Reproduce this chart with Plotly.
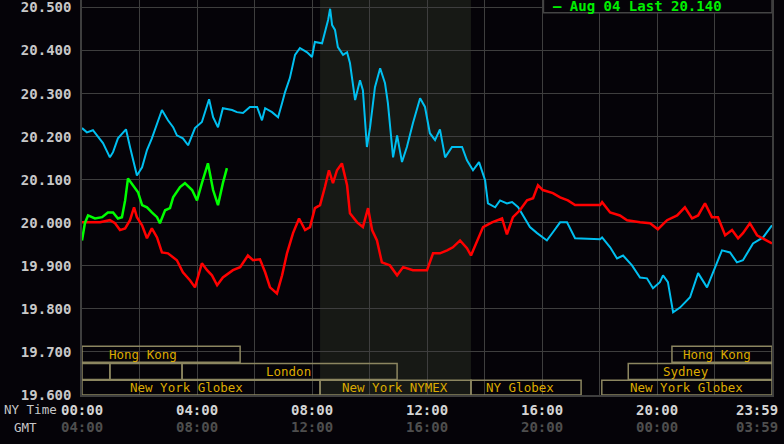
import plotly.graph_objects as go

# ---------------- data (time in NY hours, values in price) ----------------
cyan_t = [0.00, 0.17, 0.38, 0.52, 0.73, 0.97, 1.08, 1.25, 1.53, 1.67, 1.91, 2.09, 2.26, 2.43, 2.78, 2.99,
          3.17, 3.30, 3.51, 3.69, 3.93, 4.17, 4.31, 4.42, 4.56, 4.73, 4.90, 5.22, 5.39, 5.60, 5.84, 6.09,
          6.26, 6.37, 6.61, 6.82, 6.96, 7.06, 7.23, 7.41, 7.58, 7.83, 8.00, 8.10, 8.35, 8.45, 8.56, 8.63,
          8.70, 8.80, 8.90, 9.08, 9.22, 9.32, 9.50, 9.67, 9.77, 9.91, 10.02, 10.19, 10.37, 10.54, 10.64,
          10.82, 10.96, 11.13, 11.30, 11.51, 11.76, 11.93, 12.10, 12.28, 12.45, 12.63, 12.87, 13.22, 13.39,
          13.60, 13.81, 14.02, 14.12, 14.37, 14.54, 14.78, 14.96, 15.17, 15.34, 15.58, 15.83, 16.17, 16.38,
          16.63, 16.87, 17.04, 17.15, 18.02, 18.09, 18.37, 18.61, 18.82, 19.13, 19.41, 19.65, 19.86, 20.10,
          20.21, 20.38, 20.56, 20.80, 21.15, 21.43, 21.74, 22.02, 22.26, 22.54, 22.78, 22.99, 23.34, 23.69,
          24.00]
cyan_v = [20.220, 20.210, 20.215, 20.203, 20.185, 20.152, 20.164, 20.196, 20.217, 20.176, 20.110, 20.129,
          20.169, 20.196, 20.262, 20.238, 20.222, 20.203, 20.196, 20.180, 20.220, 20.234, 20.262, 20.287,
          20.245, 20.222, 20.266, 20.262, 20.257, 20.255, 20.269, 20.269, 20.238, 20.266, 20.257, 20.245,
          20.278, 20.303, 20.336, 20.390, 20.406, 20.396, 20.385, 20.420, 20.417, 20.443, 20.471, 20.497,
          20.459, 20.448, 20.408, 20.390, 20.396, 20.371, 20.285, 20.331, 20.308, 20.176, 20.222, 20.315,
          20.359, 20.324, 20.278, 20.152, 20.203, 20.141, 20.176, 20.231, 20.289, 20.269, 20.208, 20.192,
          20.217, 20.152, 20.176, 20.176, 20.145, 20.122, 20.141, 20.099, 20.045, 20.036, 20.052, 20.045,
          20.048, 20.036, 20.017, 19.990, 19.976, 19.959, 19.978, 20.001, 20.001, 19.978, 19.964, 19.962,
          19.966, 19.943, 19.917, 19.924, 19.901, 19.873, 19.871, 19.848, 19.862, 19.878, 19.862, 19.792,
          19.803, 19.827, 19.883, 19.850, 19.894, 19.936, 19.931, 19.908, 19.913, 19.952, 19.966, 19.994]

red_t = [0.00, 0.28, 0.63, 0.97, 1.15, 1.32, 1.50, 1.67, 1.81, 1.91, 2.09, 2.26, 2.43, 2.61, 2.78, 2.99,
         3.30, 3.51, 3.76, 3.93, 4.17, 4.35, 4.52, 4.70, 4.90, 5.25, 5.50, 5.77, 5.95, 6.19, 6.37, 6.54,
         6.78, 6.96, 7.13, 7.34, 7.55, 7.76, 7.93, 8.10, 8.28, 8.45, 8.59, 8.73, 8.87, 9.04, 9.22, 9.32,
         9.57, 9.77, 9.95, 10.09, 10.26, 10.43, 10.71, 10.96, 11.17, 11.51, 11.76, 12.00, 12.21, 12.45,
         12.70, 12.90, 13.15, 13.39, 13.53, 13.74, 13.95, 14.26, 14.61, 14.78, 14.99, 15.23, 15.48, 15.69,
         15.86, 16.03, 16.38, 16.63, 16.90, 17.15, 18.02, 18.09, 18.37, 18.71, 18.96, 19.41, 19.76, 20.03,
         20.35, 20.70, 20.97, 21.22, 21.43, 21.67, 21.91, 22.12, 22.37, 22.61, 22.82, 22.99, 23.23, 23.48,
         23.69, 24.00]
red_v = [20.001, 20.001, 20.001, 20.006, 19.999, 19.983, 19.987, 20.006, 20.036, 20.013, 19.994, 19.964,
         19.987, 19.966, 19.931, 19.929, 19.913, 19.885, 19.866, 19.850, 19.906, 19.890, 19.878, 19.855,
         19.873, 19.890, 19.897, 19.924, 19.913, 19.915, 19.885, 19.850, 19.836, 19.878, 19.929, 19.976,
         20.010, 19.983, 19.990, 20.034, 20.041, 20.083, 20.122, 20.092, 20.122, 20.138, 20.087, 20.022,
         20.001, 19.990, 20.034, 19.983, 19.959, 19.908, 19.901, 19.878, 19.897, 19.890, 19.890, 19.890,
         19.929, 19.929, 19.936, 19.943, 19.959, 19.941, 19.924, 19.959, 19.990, 20.001, 20.010, 19.973,
         20.013, 20.029, 20.052, 20.057, 20.087, 20.076, 20.069, 20.059, 20.052, 20.041, 20.041, 20.048,
         20.024, 20.017, 20.006, 20.001, 19.999, 19.985, 20.006, 20.017, 20.036, 20.010, 20.017, 20.045,
         20.013, 20.013, 19.971, 19.983, 19.964, 19.976, 19.999, 19.971, 19.964, 19.952]

green_t = [0.00, 0.10, 0.21, 0.45, 0.70, 0.90, 1.08, 1.25, 1.39, 1.50, 1.60, 1.77, 1.95, 2.09, 2.26, 2.43,
           2.61, 2.71, 2.89, 3.06, 3.17, 3.41, 3.58, 3.83, 4.00, 4.17, 4.38, 4.56, 4.73, 4.90, 5.04]
green_v = [19.959, 19.999, 20.017, 20.010, 20.013, 20.024, 20.024, 20.010, 20.013, 20.052, 20.103, 20.087,
           20.071, 20.041, 20.036, 20.024, 20.013, 19.999, 20.029, 20.034, 20.059, 20.083, 20.092, 20.076,
           20.052, 20.092, 20.138, 20.076, 20.041, 20.092, 20.127]
green_name = "Aug 04"
green_last = 20.140

# trading sessions (NY hours)
session_names = ["Hong Kong", "", "", "London", "New York Globex", "New York NYMEX", "NY Globex",
                 "New York Globex", "Sydney", "Hong Kong"]
session_start = [0.00, 0.00, 0.97, 3.48, 0.00, 8.28, 13.53, 18.08, 19.00, 20.52]
session_end = [5.50, 0.97, 3.48, 10.96, 8.28, 13.53, 17.36, 24.00, 24.00, 24.00]
session_row = [1, 2, 2, 2, 3, 3, 3, 3, 2, 1]
session_label_at = [2.12, 0, 0, 7.18, 3.65, 10.90, 15.23, 21.01, 21.01, 22.09]

# axis labels
y_ticks = [19.6, 19.7, 19.8, 19.9, 20.0, 20.1, 20.2, 20.3, 20.4, 20.5]
x_label_hours = [0, 4, 8, 12, 16, 20, 24]
ny_labels = ["00:00", "04:00", "08:00", "12:00", "16:00", "20:00", "23:59"]
gmt_labels = ["04:00", "08:00", "12:00", "16:00", "20:00", "00:00", "03:59"]

# ---------------- styling ----------------
BG = "#050308"
GRID = "#3e3e3e"
MONO = "DejaVu Sans Mono"
ROWS = {1: (19.676, 19.713), 2: (19.636, 19.673), 3: (19.600, 19.634)}

fig = go.Figure()
fig.add_trace(go.Scatter(x=cyan_t, y=cyan_v, mode="lines", line=dict(color="#00bff0", width=2),
                         showlegend=False, hoverinfo="skip"))
fig.add_trace(go.Scatter(x=red_t, y=red_v, mode="lines", line=dict(color="#ff0000", width=2.5),
                         showlegend=False, hoverinfo="skip"))
fig.add_trace(go.Scatter(x=green_t, y=green_v, mode="lines", line=dict(color="#00ff00", width=2.5),
                         name=green_name, showlegend=False, hoverinfo="skip"))

shapes = []
# NYMEX session shading
shapes.append(dict(type="rect", xref="x", yref="paper", x0=8.28, x1=13.53, y0=0, y1=1,
                   fillcolor="#171915", line=dict(width=0), layer="below"))
annotations = []
for name, s, e, r, lx in zip(session_names, session_start, session_end, session_row, session_label_at):
    y0, y1 = ROWS[r]
    shapes.append(dict(type="rect", xref="x", yref="y", x0=s, x1=e, y0=y0, y1=y1,
                       line=dict(color="#8c8660", width=1.5), fillcolor="rgba(0,0,0,0)", layer="above"))
    if name:
        annotations.append(dict(x=lx, y=(y0 + y1) / 2, xref="x", yref="y", text=name, showarrow=False,
                                font=dict(family=MONO, size=12.5, color="#dcaa00"),
                                xanchor="center", yanchor="middle"))

# legend box top right
shapes.append(dict(type="rect", xref="x", yref="paper", x0=16.05, x1=24, y0=0.9675, y1=1.05,
                   line=dict(color="#444444", width=1.5), fillcolor=BG, layer="above"))
annotations.append(dict(x=16.3, y=20.5174, xref="x", yref="y", xanchor="left", yanchor="middle", yshift=-6,
                        text=f"\u2013 {green_name} Last {green_last:.3f}", showarrow=False,
                        font=dict(family=MONO, size=14, color="#00f000", weight="bold")))

# time axis labels
for h, ny, gmt in zip(x_label_hours, ny_labels, gmt_labels):
    xa = "right" if h == 24 else "center"
    xs = 8 if h == 24 else 0
    annotations.append(dict(x=h, y=0, xref="x", yref="paper", yanchor="middle", xanchor=xa, xshift=xs,
                            yshift=-14.5, text=ny, showarrow=False,
                            font=dict(family=MONO, size=14, color="#d4d4d4", weight="bold")))
    annotations.append(dict(x=h, y=0, xref="x", yref="paper", yanchor="middle", xanchor=xa, xshift=xs,
                            yshift=-32, text=gmt, showarrow=False,
                            font=dict(family=MONO, size=14, color="#4e4e4e", weight="bold")))
annotations.append(dict(x=-80 / 690, y=0, xref="paper", yref="paper", xanchor="left", yanchor="middle",
                        yshift=-14.5, text="NY Time", showarrow=False,
                        font=dict(family=MONO, size=12.5, color="#c8c8c8")))
annotations.append(dict(x=-70 / 690, y=0, xref="paper", yref="paper", xanchor="left", yanchor="middle",
                        yshift=-32, text="GMT", showarrow=False,
                        font=dict(family=MONO, size=12.5, color="#c8c8c8")))

fig.update_layout(
    width=784, height=444,
    margin=dict(l=82, r=12, t=0, b=49),
    paper_bgcolor=BG, plot_bgcolor=BG,
    shapes=shapes, annotations=annotations,
    xaxis=dict(range=[0, 24], dtick=2, tick0=0, showgrid=True, gridcolor=GRID, gridwidth=1,
               showticklabels=False, zeroline=False, showline=True, linecolor=GRID, linewidth=1.5,
               fixedrange=True),
    yaxis=dict(range=[19.6, 20.5174], tickvals=y_ticks, tickformat=".3f", showgrid=True, gridcolor=GRID,
               gridwidth=1, zeroline=False, showline=True, linecolor=GRID, linewidth=1.5, mirror=True,
               ticks="", ticklabelstandoff=6, ticklabeloverflow="allow",
               tickfont=dict(family=MONO, size=14, color="#c8c8c8", weight="bold"), fixedrange=True),
)

fig.write_html("out.html", config={"displayModeBar": False},
               post_script="document.body.style.margin='0';document.body.style.background='#050308';")
